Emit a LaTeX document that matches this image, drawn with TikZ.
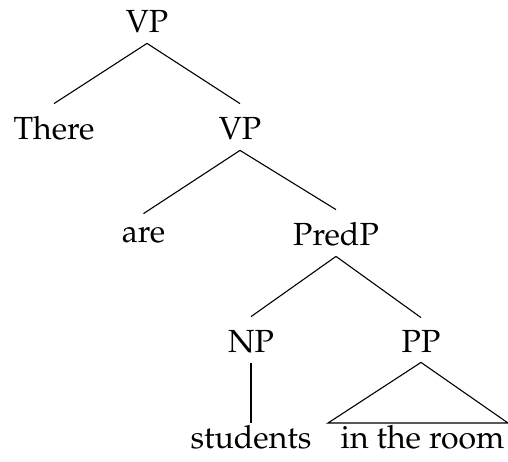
\documentclass[tikz,border=0pt]{standalone}
\usepackage[T1]{fontenc}
\usepackage{mathpazo}
\begin{document}
\begin{tikzpicture}[x=0.5pt,y=-0.5pt,
  lbl/.style={anchor=base,inner xsep=0pt,inner ysep=5.5pt,text height=12pt,text depth=0pt,
    font=\fontsize{16}{19}\selectfont},
  edge/.style={draw=black,line width=0.55pt}]
\useasboundingbox (0,0) rectangle (508,461);
% labels, placed by baseline
\node[lbl] (vp1) at (147,32) {VP};
\node[lbl] (there) at (54,139) {There};
\node[lbl] (vp2) at (240,139) {VP};
\node[lbl,text height=8.5pt] (are) at (143.5,242) {are};
\node[lbl] (predp) at (336,245) {PredP};
\node[lbl] (np) at (251,352) {NP};
\node[lbl,inner ysep=5pt] (pp) at (421,352) {PP};
\node[lbl,text height=7pt] (students) at (251,448) {students};
\node[lbl,text height=7pt] (room) at (422.5,448) {in the room};
\coordinate (tl) at (328,423);
\coordinate (tr) at (508,423);
% branches
\draw[edge] (vp1.south) -- (there.north);
\draw[edge] (vp1.south) -- (vp2.north);
\draw[edge] (vp2.south) -- (are.north);
\draw[edge] (vp2.south) -- (predp.north);
\draw[edge] (predp.south) -- (np.north);
\draw[edge] (predp.south) -- (pp.north);
\draw[edge] (np.south) -- (students.north);
\draw[edge] (pp.south) -- (tl) -- (tr) -- cycle;
\end{tikzpicture}
\end{document}
